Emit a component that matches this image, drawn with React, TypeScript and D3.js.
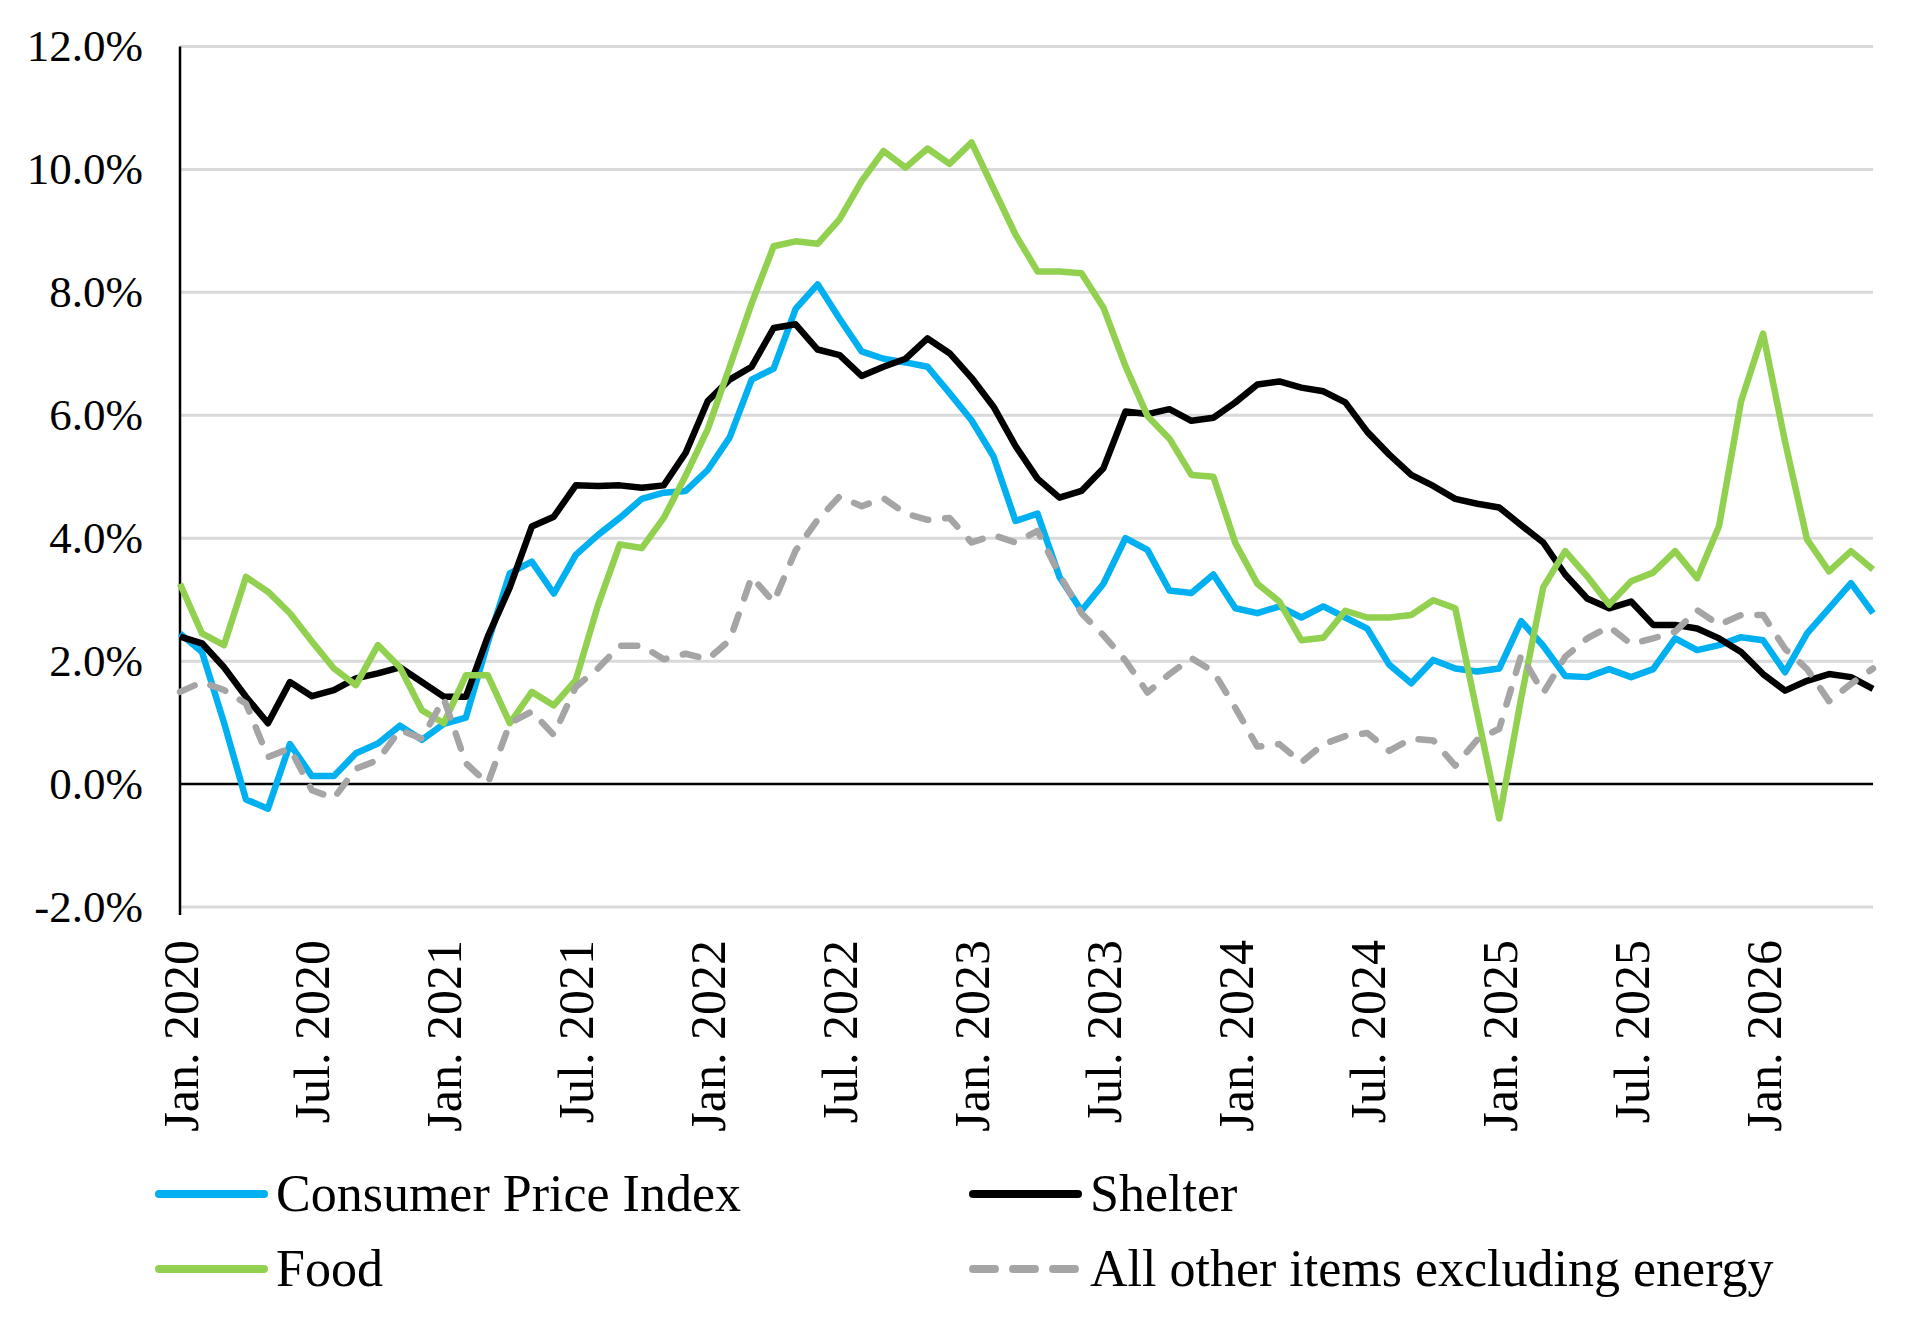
import React, { useEffect, useRef } from 'react';
import * as d3 from 'd3';

// monthly values, Jan. 2020 .. Jun. 2026 (78 points)
const cpi = [
    2.45, 2.15, 1.0, -0.25, -0.4, 0.65, 0.13, 0.13, 0.5, 0.66, 0.95, 0.72,
    0.98, 1.08, 2.3, 3.43, 3.62, 3.1, 3.73, 4.05, 4.33, 4.64, 4.74, 4.77,
    5.11, 5.64, 6.58, 6.76, 7.73, 8.13, 7.57, 7.04, 6.92, 6.86, 6.79, 6.36,
    5.92, 5.33, 4.28, 4.4, 3.37, 2.82, 3.26, 4.0, 3.81, 3.15, 3.11, 3.41,
    2.86, 2.78, 2.89, 2.71, 2.89, 2.71, 2.53, 1.94, 1.64, 2.02, 1.88, 1.83,
    1.88, 2.65, 2.25, 1.76, 1.74, 1.87, 1.74, 1.87, 2.37, 2.18, 2.26, 2.39,
    2.34, 1.82, 2.45, 2.86, 3.27, 2.78,
];
const shelter = [
    2.4, 2.29, 1.9, 1.42, 0.99, 1.66, 1.43, 1.53, 1.72, 1.8, 1.9, 1.66,
    1.42, 1.42, 2.4, 3.2, 4.19, 4.35, 4.86, 4.85, 4.86, 4.82, 4.86, 5.39,
    6.23, 6.58, 6.79, 7.42, 7.48, 7.07, 6.98, 6.64, 6.79, 6.92, 7.25, 7.01,
    6.61, 6.14, 5.5, 4.97, 4.66, 4.77, 5.14, 6.06, 6.02, 6.1, 5.91, 5.96,
    6.21, 6.5, 6.55, 6.45, 6.39, 6.21, 5.73, 5.36, 5.03, 4.85, 4.64, 4.56,
    4.5, 4.21, 3.93, 3.41, 3.02, 2.86, 2.97, 2.59, 2.59, 2.53, 2.37, 2.15,
    1.79, 1.52, 1.68, 1.79, 1.74, 1.55,
];
const food = [
    3.26, 2.45, 2.26, 3.37, 3.13, 2.78, 2.32, 1.88, 1.61, 2.26, 1.9, 1.2,
    0.99, 1.77, 1.77, 0.99, 1.5, 1.28, 1.69, 2.9, 3.9, 3.84, 4.33, 5.02,
    5.77, 6.79, 7.82, 8.75, 8.83, 8.79, 9.19, 9.81, 10.3, 10.03, 10.34, 10.09,
    10.44, 9.69, 8.94, 8.34, 8.34, 8.31, 7.75, 6.8, 5.99, 5.62, 5.03, 5.0,
    3.92, 3.26, 2.97, 2.34, 2.38, 2.82, 2.71, 2.71, 2.75, 2.99, 2.86, 1.15,
    -0.56, 1.4, 3.2, 3.79, 3.38, 2.92, 3.3, 3.44, 3.79, 3.35, 4.2, 6.23,
    7.33, 5.57, 3.98, 3.46, 3.79, 3.49,
];
const otherItems = [
    1.5, 1.66, 1.53, 1.31, 0.44, 0.58, -0.1, -0.23, 0.25, 0.39, 0.88, 0.74,
    1.39, 0.34, 0.01, 0.99, 1.18, 0.8, 1.58, 1.88, 2.25, 2.25, 2.03, 2.12,
    2.03, 2.34, 3.37, 2.96, 3.8, 4.3, 4.68, 4.52, 4.65, 4.4, 4.3, 4.33,
    3.93, 4.05, 3.93, 4.12, 3.41, 2.78, 2.42, 2.01, 1.49, 1.79, 2.05, 1.83,
    1.24, 0.61, 0.65, 0.35, 0.65, 0.78, 0.83, 0.54, 0.74, 0.71, 0.3, 0.72,
    0.9, 2.1, 1.48, 2.07, 2.37, 2.56, 2.28, 2.37, 2.48, 2.83, 2.59, 2.75,
    2.75, 2.2, 1.87, 1.35, 1.63, 1.88,
];

const xTickLabels = [
    'Jan. 2020', 'Jul. 2020', 'Jan. 2021', 'Jul. 2021', 'Jan. 2022', 'Jul. 2022',
    'Jan. 2023', 'Jul. 2023', 'Jan. 2024', 'Jul. 2024', 'Jan. 2025', 'Jul. 2025',
    'Jan. 2026',
];
const yTicks = [-2, 0, 2, 4, 6, 8, 10, 12];

const seriesList = [
    { name: 'Consumer Price Index', values: cpi, color: '#00b0f0', dash: null },
    { name: 'Shelter', values: shelter, color: '#000000', dash: null },
    { name: 'Food', values: food, color: '#92d050', dash: null },
    { name: 'All other items excluding energy', values: otherItems, color: '#a5a5a5', dash: '16 17' },
];

const App = () => {
    const svgRef = useRef(null);

    useEffect(() => {
        const svg = d3.select(svgRef.current);
        const width = 1920;
        const height = 1330;
        const marginLeft = 180;
        const marginRight = 47;
        const plotTop = 46.5;
        const plotBottom = 907;
        const font = '"Liberation Serif", "Times New Roman", serif';

        svg.attr('width', width)
            .attr('height', height)
            .selectAll('*').remove();

        const n = cpi.length;
        const x = d3.scaleLinear()
            .domain([0, n - 1])
            .range([marginLeft, width - marginRight]);

        const y = d3.scaleLinear()
            .domain([-2, 12])
            .range([plotBottom, plotTop]);

        // gridlines
        svg.append('g')
            .selectAll('line')
            .data(yTicks.filter(d => d !== 0))
            .enter()
            .append('line')
            .attr('x1', marginLeft)
            .attr('x2', width - marginRight)
            .attr('y1', d => y(d))
            .attr('y2', d => y(d))
            .attr('stroke', '#d9d9d9')
            .attr('stroke-width', 3);

        // y tick labels
        svg.append('g')
            .selectAll('text')
            .data(yTicks)
            .enter()
            .append('text')
            .attr('x', 143)
            .attr('y', d => y(d))
            .attr('dy', '0.33em')
            .attr('text-anchor', 'end')
            .attr('font-family', font)
            .attr('font-size', 45)
            .attr('fill', '#000')
            .text(d => d.toFixed(1) + '%');

        // axes
        svg.append('line')
            .attr('x1', marginLeft)
            .attr('x2', marginLeft)
            .attr('y1', plotTop)
            .attr('y2', plotBottom + 8)
            .attr('stroke', '#000')
            .attr('stroke-width', 2.5);

        svg.append('line')
            .attr('x1', marginLeft)
            .attr('x2', width - marginRight)
            .attr('y1', y(0))
            .attr('y2', y(0))
            .attr('stroke', '#000')
            .attr('stroke-width', 2.5);

        // x tick labels, every six months
        svg.append('g')
            .selectAll('text')
            .data(xTickLabels)
            .enter()
            .append('text')
            .attr('transform', (d, i) => `translate(${x(i * 6)}, 940) rotate(-90)`)
            .attr('dy', '0.35em')
            .attr('text-anchor', 'end')
            .attr('font-family', font)
            .attr('font-size', 50)
            .attr('fill', '#000')
            .text(d => d);

        const line = d3.line()
            .x((d, i) => x(i))
            .y(d => y(d));

        seriesList.forEach(s => {
            svg.append('path')
                .datum(s.values)
                .attr('d', line)
                .attr('fill', 'none')
                .attr('stroke', s.color)
                .attr('stroke-width', 6.5)
                .attr('stroke-linejoin', 'round')
                .attr('stroke-linecap', s.dash ? 'round' : 'butt')
                .attr('stroke-dasharray', s.dash);
        });

        // legend
        const legendPos = [
            { x: 159, y: 1194 },
            { x: 973, y: 1194 },
            { x: 159, y: 1269 },
            { x: 973, y: 1269 },
        ];
        const legend = svg.append('g')
            .selectAll('g')
            .data(seriesList)
            .enter()
            .append('g')
            .attr('transform', (d, i) => `translate(${legendPos[i].x}, ${legendPos[i].y})`);

        legend.append('line')
            .attr('x1', 0)
            .attr('x2', 105)
            .attr('y1', 0)
            .attr('y2', 0)
            .attr('stroke', d => d.color)
            .attr('stroke-width', 8)
            .attr('stroke-linecap', 'round')
            .attr('stroke-dasharray', d => d.dash ? '22 18' : null);

        legend.append('text')
            .attr('x', 117)
            .attr('y', 0)
            .attr('dy', '0.33em')
            .attr('font-family', font)
            .attr('font-size', 52)
            .attr('fill', '#000')
            .text(d => d.name);
    }, []);

    return <svg ref={svgRef} style={{ position: 'absolute', left: 0, top: 0 }}></svg>;
};

export default App;
